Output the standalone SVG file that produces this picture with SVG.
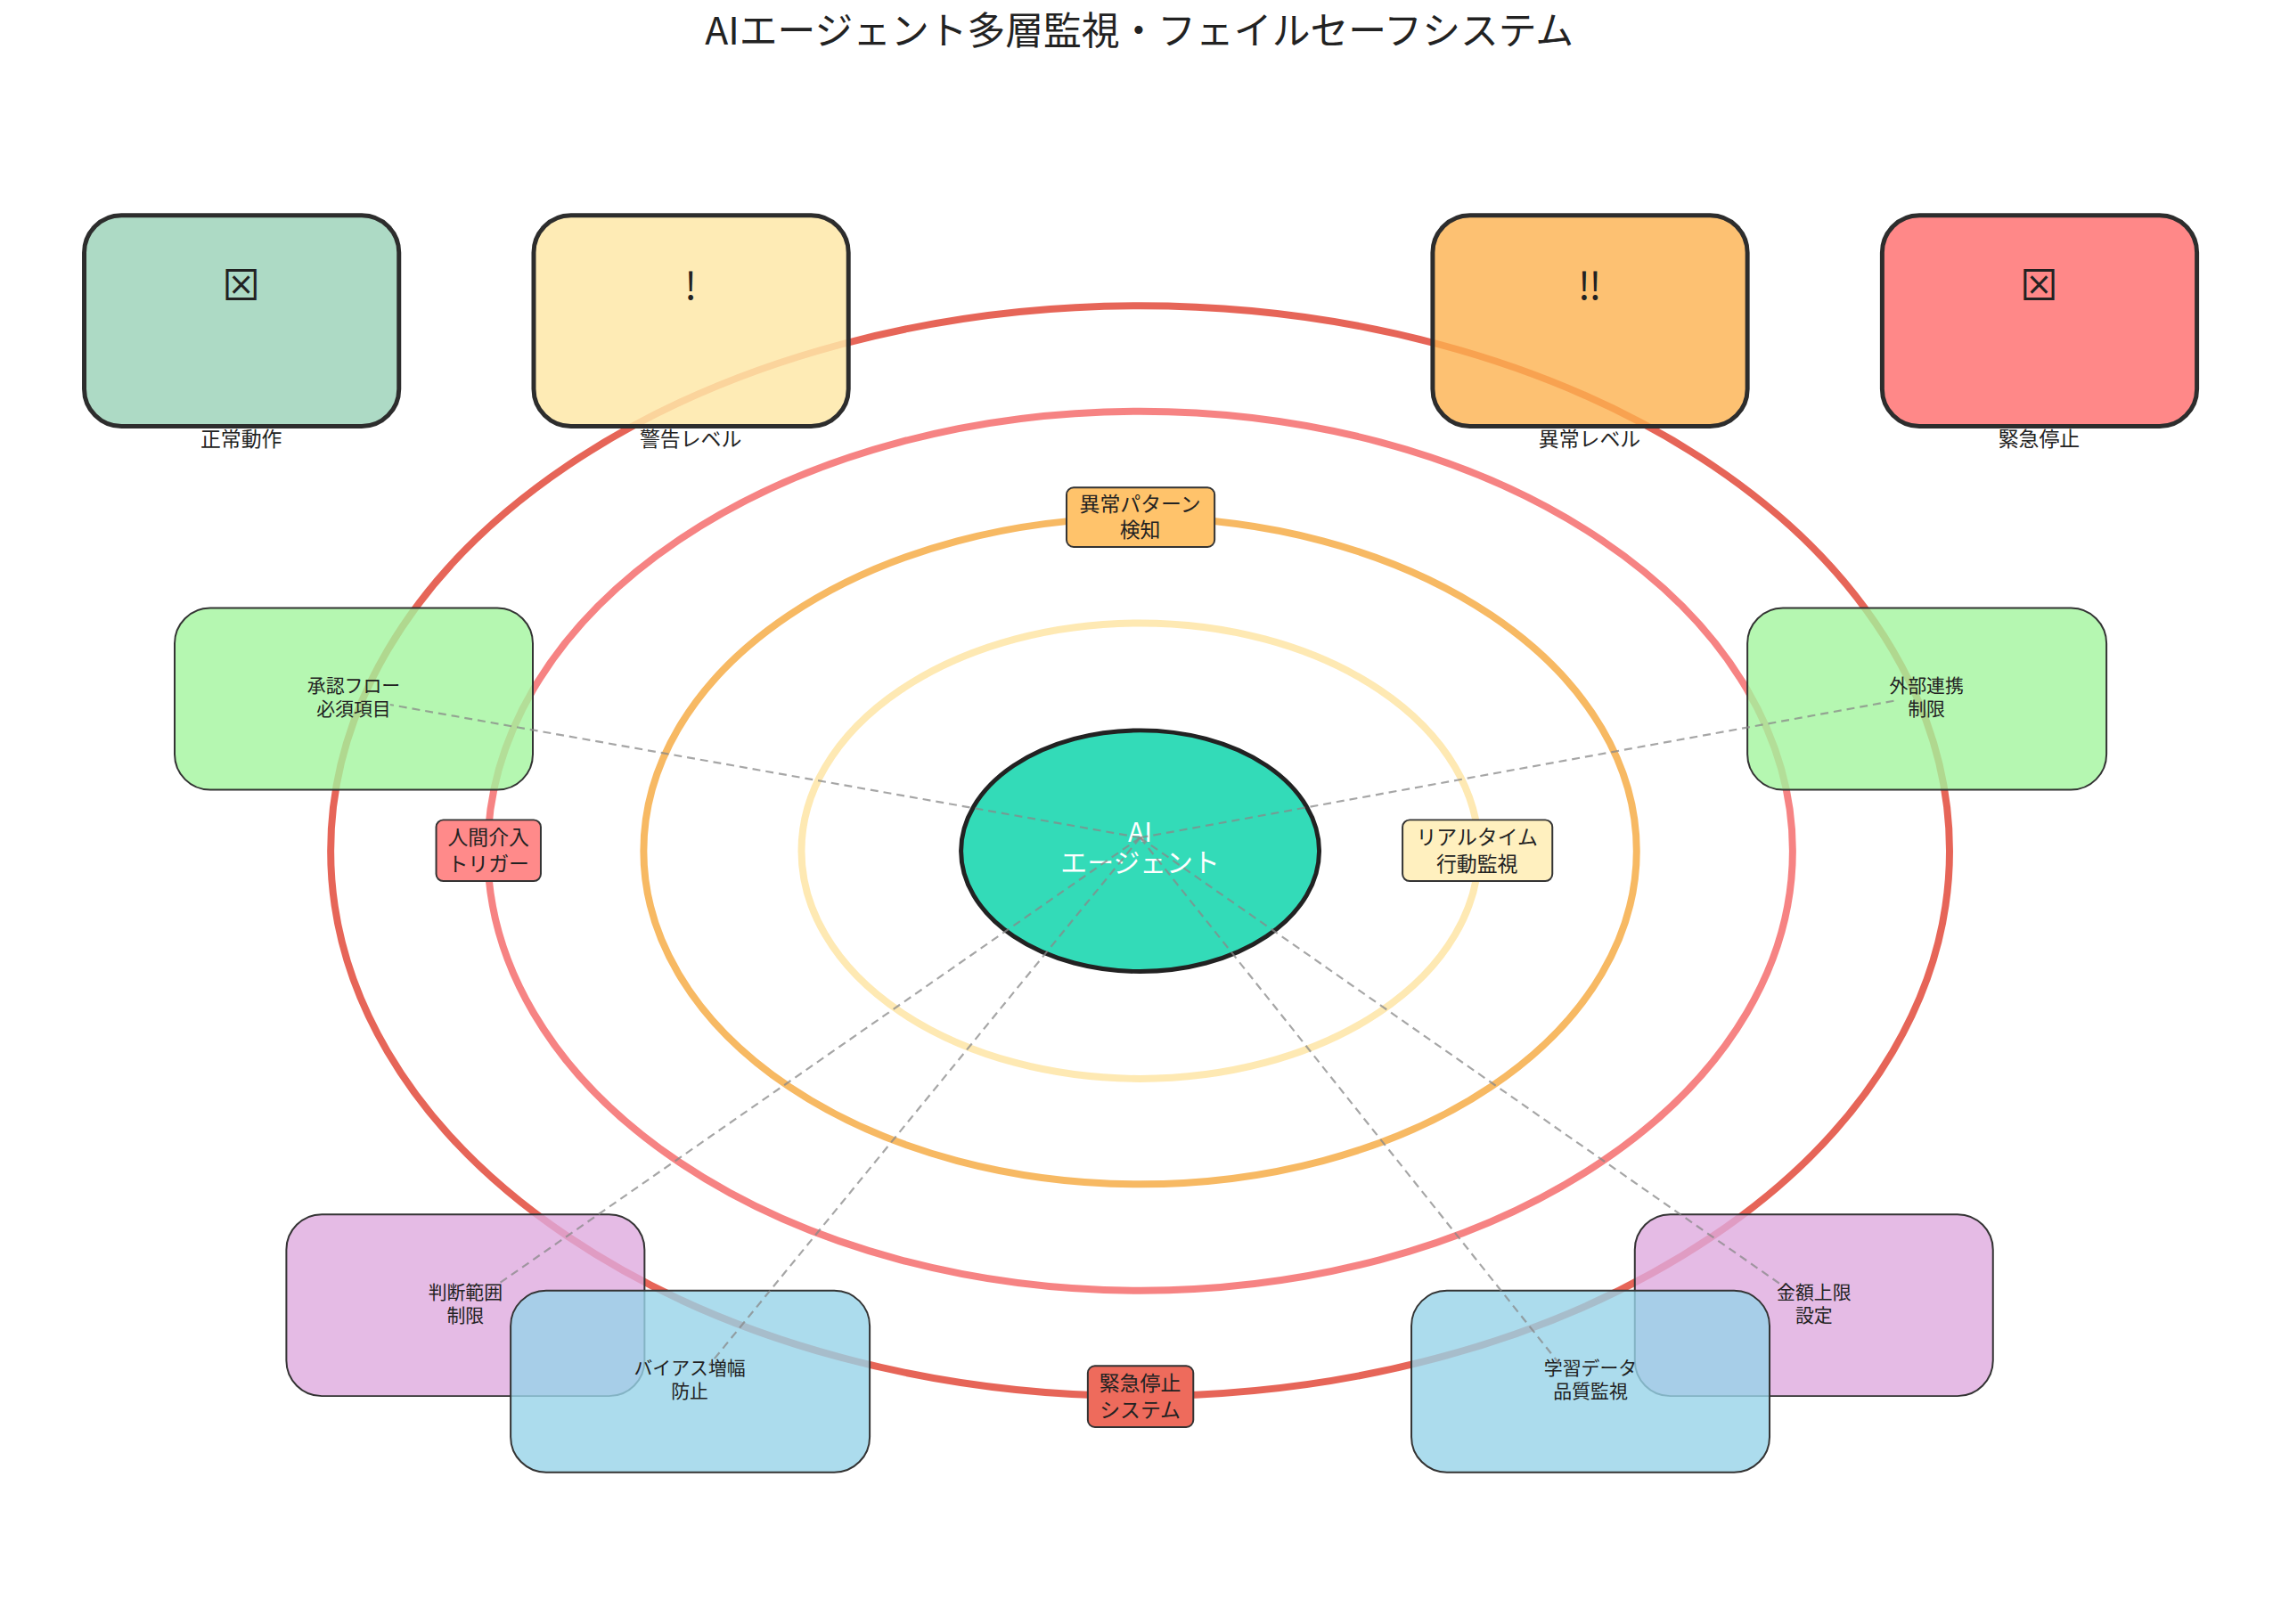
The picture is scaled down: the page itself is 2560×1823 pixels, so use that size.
<svg xmlns="http://www.w3.org/2000/svg" width="2560" height="1823" viewBox="0 0 2560 1823">
<style>
text{font-family:"Noto Sans CJK JP","Liberation Sans",sans-serif;text-anchor:middle;fill:#222}
.ring{fill:none;stroke-width:8}
.status{stroke:#2d2d2d;stroke-width:5}
.feat{stroke:#333;stroke-width:2;fill-opacity:0.8}
.lab{stroke:#333;stroke-width:2}
.conn{stroke:#888;stroke-width:2.2;stroke-dasharray:9,6;opacity:0.75;fill:none}
.ft{font-size:21px}
.lt{font-size:23px}
</style>
<rect width="2560" height="1823" fill="#fff"/>
<g transform="scale(0.995)">
<text x="1285" y="50" style="font-size:43px">AIエージェント多層監視・フェイルセーフシステム</text>
<g id="rings">
<ellipse class="ring" cx="1286" cy="960" rx="913" ry="615" stroke="#e24a3b" stroke-opacity="0.85"/>
<ellipse class="ring" cx="1286" cy="960" rx="736" ry="496" stroke="#f56d6d" stroke-opacity="0.85"/>
<ellipse class="ring" cx="1286" cy="960" rx="560" ry="376" stroke="#f5a83c" stroke-opacity="0.8"/>
<ellipse class="ring" cx="1286" cy="960" rx="382" ry="257" stroke="#fde29a" stroke-opacity="0.75"/>
</g>
<g id="status-normal"><rect class="status" x="95" y="243" width="355" height="238" rx="42" fill="#9fd3bb" fill-opacity="0.85"/><text x="272" y="338" style="font-size:43px">⊠</text><text class="lt" x="272" y="504">正常動作</text></g>
<g id="status-warning"><rect class="status" x="602" y="243" width="355" height="238" rx="42" fill="#fee7a8" fill-opacity="0.85"/><text x="779" y="338" style="font-size:43px">!</text><text class="lt" x="779" y="504">警告レベル</text></g>
<g id="status-abnormal"><rect class="status" x="1616" y="243" width="355" height="238" rx="42" fill="#fdb24f" fill-opacity="0.8"/><text x="1793" y="338" style="font-size:43px">‼</text><text class="lt" x="1793" y="504">異常レベル</text></g>
<g id="status-stop"><rect class="status" x="2123" y="243" width="355" height="238" rx="42" fill="#ff7b7b" fill-opacity="0.9"/><text x="2300" y="338" style="font-size:43px">⊠</text><text class="lt" x="2300" y="504">緊急停止</text></g>
<g id="approval"><rect class="feat" x="197" y="686" width="404" height="205" rx="40" fill="#a2f59e"/><text class="ft" x="399" y="781">承認フロー</text><text class="ft" x="399" y="807">必須項目</text></g>
<g id="external"><rect class="feat" x="1971" y="686" width="405" height="205" rx="40" fill="#a2f59e"/><text class="ft" x="2173" y="781">外部連携</text><text class="ft" x="2173" y="807">制限</text></g>
<g id="judgement"><rect class="feat" x="323" y="1370" width="404" height="205" rx="40" fill="#dfaadf"/><text class="ft" x="525" y="1465">判断範囲</text><text class="ft" x="525" y="1491">制限</text></g>
<g id="bias"><rect class="feat" x="576" y="1456" width="405" height="205" rx="40" fill="#97d3e8"/><text class="ft" x="778" y="1551">バイアス増幅</text><text class="ft" x="778" y="1577">防止</text></g>
<g id="amount"><rect class="feat" x="1844" y="1370" width="404" height="205" rx="40" fill="#dfaadf"/><text class="ft" x="2046" y="1465">金額上限</text><text class="ft" x="2046" y="1491">設定</text></g>
<g id="data"><rect class="feat" x="1592" y="1456" width="404" height="205" rx="40" fill="#97d3e8"/><text class="ft" x="1794" y="1551">学習データ</text><text class="ft" x="1794" y="1577">品質監視</text></g>
<g id="ai"><ellipse cx="1286" cy="960" rx="202" ry="136" fill="#33dbb8" stroke="#222" stroke-width="5"/><text x="1286" y="950" style="font-size:30px;fill:#fff">AI</text><text x="1286" y="984" style="font-size:30px;fill:#fff">エージェント</text></g>
<g id="connectors">
<line class="conn" x1="1286" y1="945" x2="440" y2="795"/>
<line class="conn" x1="1286" y1="945" x2="2140" y2="790"/>
<line class="conn" x1="1286" y1="945" x2="560" y2="1450"/>
<line class="conn" x1="1286" y1="945" x2="800" y2="1540"/>
<line class="conn" x1="1286" y1="945" x2="1760" y2="1540"/>
<line class="conn" x1="1286" y1="945" x2="2010" y2="1450"/>
</g>
<g id="label-pattern"><rect class="lab" x="1203" y="550" width="167" height="67" rx="8" fill="#ffc36b"/><text class="lt" x="1286" y="577">異常パターン</text><text class="lt" x="1286" y="606">検知</text></g>
<g id="label-realtime"><rect class="lab" x="1582" y="925" width="169" height="69" rx="8" fill="#fff0bf"/><text class="lt" x="1666" y="953">リアルタイム</text><text class="lt" x="1666" y="983">行動監視</text></g>
<g id="label-human"><rect class="lab" x="492" y="925" width="118" height="69" rx="8" fill="#ff8a8a"/><text class="lt" x="551" y="953">人間介入</text><text class="lt" x="551" y="983">トリガー</text></g>
<g id="label-emergency"><rect class="lab" x="1227" y="1541" width="119" height="69" rx="8" fill="#ee6b5c"/><text class="lt" x="1286" y="1569">緊急停止</text><text class="lt" x="1286" y="1599">システム</text></g>
</g>
</svg>
